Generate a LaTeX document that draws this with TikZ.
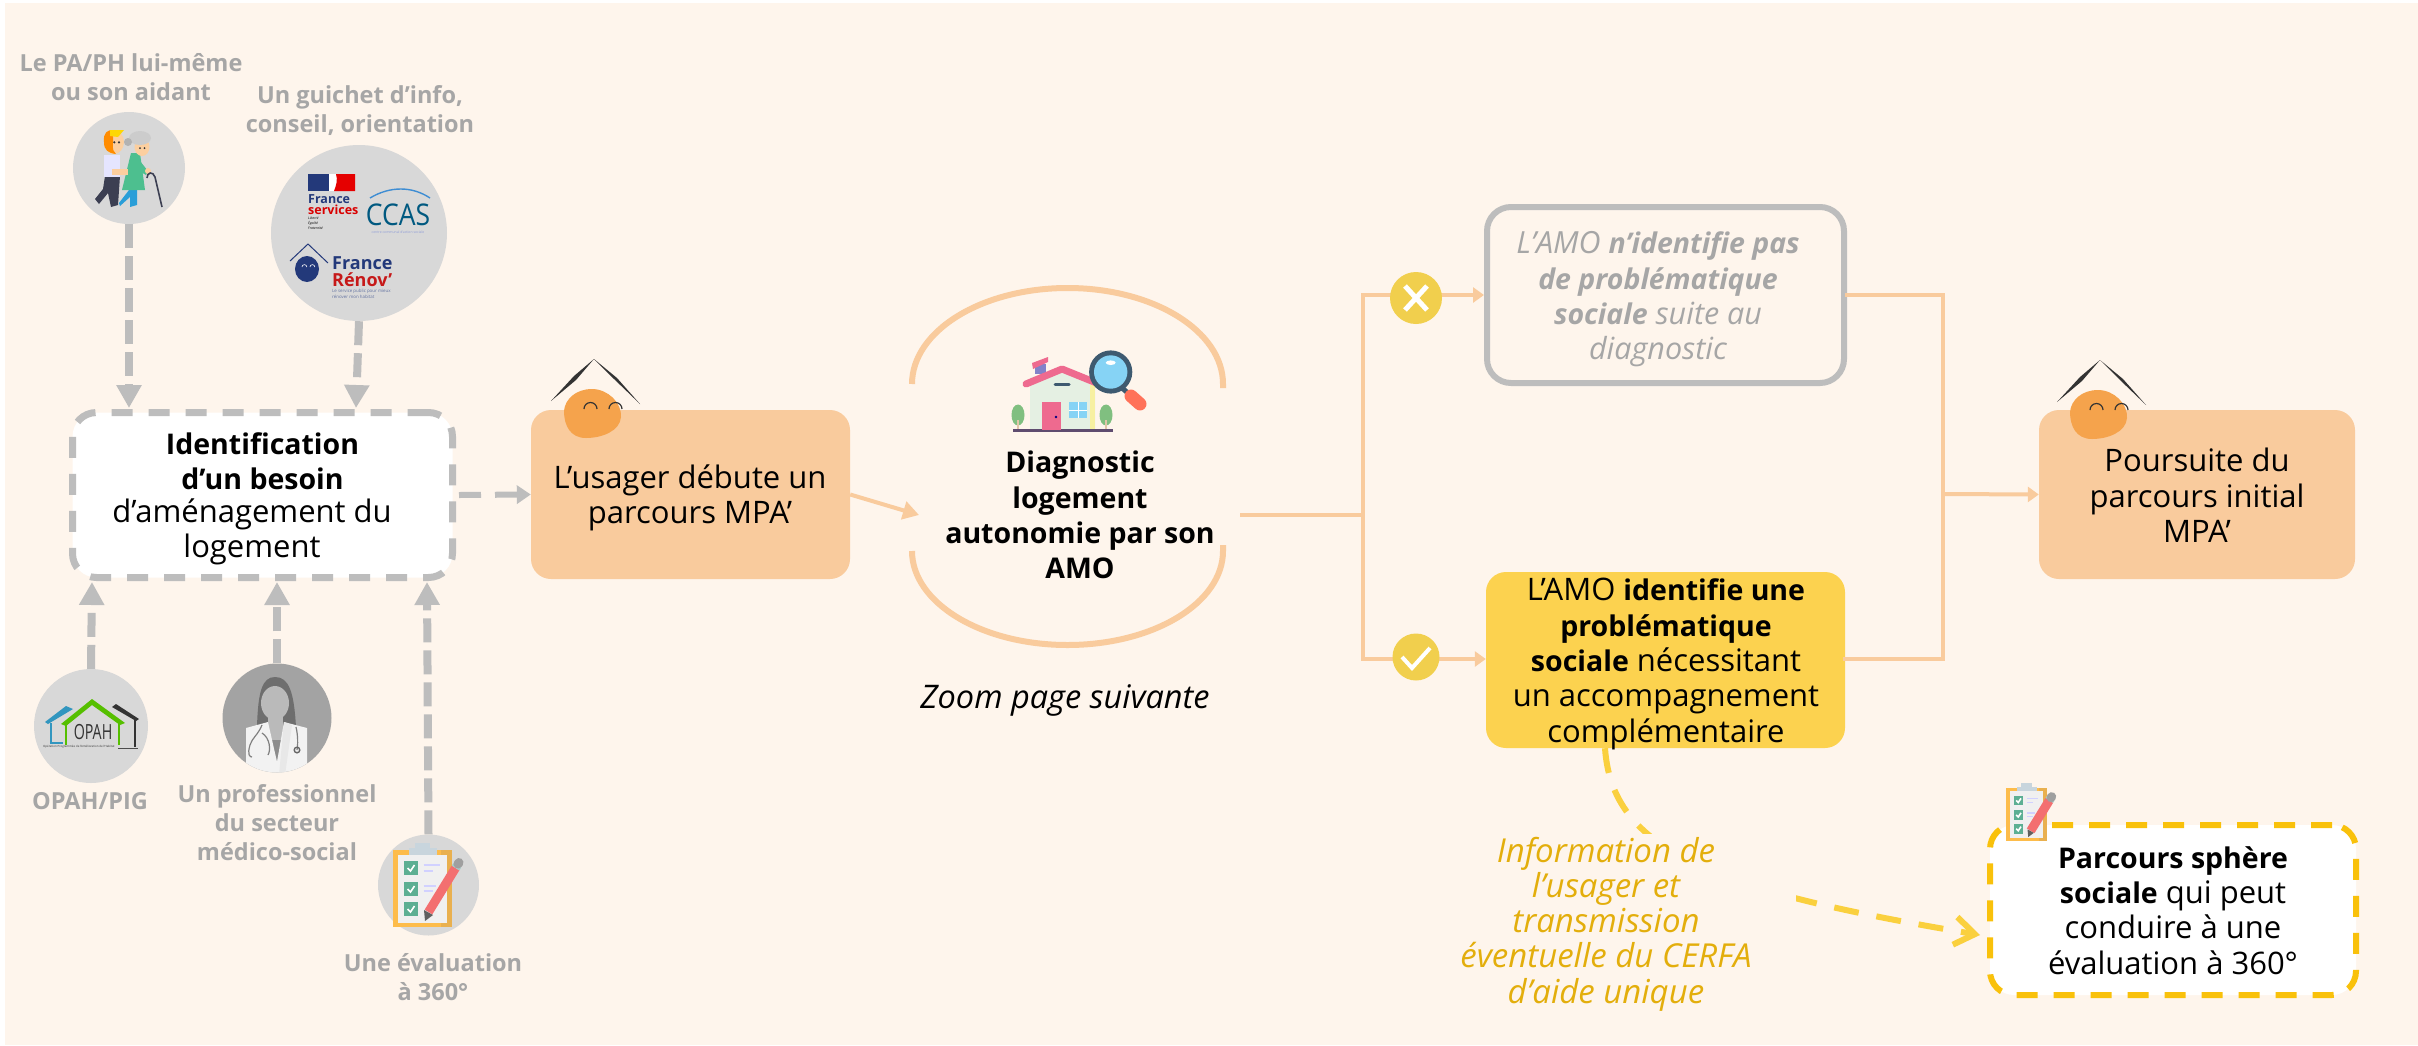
\documentclass[tikz,border=0pt]{standalone}
\usepackage{fontspec}
\usepackage{graphicx}
\setmainfont{Open Sans}
\usetikzlibrary{arrows.meta,calc}
\definecolor{bgc}{HTML}{FEF5EC}
\definecolor{peach}{HTML}{F9CB9D}
\definecolor{blob}{HTML}{F5A34C}
\definecolor{ygold}{HTML}{FCD24F}
\definecolor{ydash}{HTML}{F9C10B}
\definecolor{ycurve}{HTML}{FAD03E}
\definecolor{ytxt}{HTML}{E3AE0C}
\definecolor{gline}{HTML}{BDBDBD}
\definecolor{gtxt}{HTML}{A6A6A6}
\definecolor{gcirc}{HTML}{D8D8D8}
\definecolor{ycirc}{HTML}{F1CF4D}
\definecolor{navy}{HTML}{23397A}
\definecolor{pinkr}{HTML}{EE6A8F}
\definecolor{magblue}{HTML}{86D3F5}
\definecolor{magdark}{HTML}{3E5A70}
\definecolor{skin}{HTML}{FCCF9F}
\definecolor{trouser}{HTML}{3C3F52}
\definecolor{robe}{HTML}{4DBF8F}
\definecolor{legb}{HTML}{2A9ED8}
\definecolor{cboard}{HTML}{FDBC4B}
\definecolor{cboardd}{HTML}{E9B04F}
\definecolor{cclip}{HTML}{C8D5DD}
\definecolor{ctick}{HTML}{5CAF93}
\definecolor{pencil}{HTML}{F36F70}
\tikzset{
 lab/.style={align=center,text=gtxt,font=\fontsize{23.5}{29}\selectfont\bfseries},
 body/.style={align=center,font=\fontsize{31}{35.3}\selectfont},
 gdash/.style={draw=gline,line width=8pt,dash pattern=on 24pt off 8pt,-{Triangle[length=23pt,width=24pt]}},
 branch/.style={draw=peach,line width=4pt},
 barrow/.style={draw=peach,line width=4pt,-{Triangle[length=11pt,width=15pt]}},
 pbox/.style={fill=peach,rounded corners=20pt},
 circ/.style={circle,fill=gcirc,inner sep=0pt},
}
\newcommand{\bb}[1]{{\fontsize{28.5}{35.3}\selectfont\bfseries #1}}
\newcommand{\mascot}[1]{%
 \begin{scope}[shift={(#1)}]
 \fill[black!80] (-43,42) -- (-20,17) -- (0,0) -- (-18,21) -- cycle;
 \fill[black!80] (0,0) -- (20,20) -- (46,45) -- (23,19) -- cycle;
 \fill[blob] (-2,30) .. controls (14,30) and (28,44) .. (27,58) .. controls (26,72) and (8,79) .. (-8,79) .. controls (-24,79) and (-30,66) .. (-30,52) .. controls (-29,40) and (-18,30) .. (-2,30) -- cycle;
 \draw[line width=1.2pt,black!80] (-10,50) arc (180:360:6.5);
 \draw[line width=1.2pt,black!80] (15,50) arc (180:360:6.5);
 \end{scope}}
\newcommand{\clipboard}[2]{%
 \begin{scope}[shift={(#1)},scale=#2]
 \fill[cclip] (-7.5,-7) rectangle (7.5,0);
 \fill[cboard] (-29.5,0) rectangle (29.5,77);
 \fill[cboardd] (18,0) rectangle (29.5,77);
 \fill[black!6] (-24.5,5) rectangle (24.5,73);
 \fill[cclip] (-13.5,-2) rectangle (14.5,5);
 \foreach \yy in {18,39,59}{
  \fill[ctick] (-18.5,\yy-7) rectangle (-4.5,\yy+7);
  \draw[white,line width=1.6pt] (-15,\yy) -- (-12,\yy+3) -- (-8,\yy-3);
 }
 \draw[line width=1.6pt,blue!18] (1,15) -- (17,15) (1,21) -- (10,21) (1,36) -- (13,36) (1,41) -- (10,41);
 \draw[line width=9pt,pencil] (6,62) -- (33,18);
 \fill[gray!75!black] (2.5,71) -- (1.5,60) -- (10.5,65) -- cycle;
 \draw[line width=9pt,cclip!70!ctick] (33,18) -- (35,15);
 \draw[line width=9pt,gray!75,line cap=round] (35.5,14) -- (36.5,12.5);
 \end{scope}}
\begin{document}
\begin{tikzpicture}[x=1pt,y=-1pt]
\useasboundingbox (0,0) rectangle (2418,1045);
\fill[white] (0,0) rectangle (2418,1045);
\fill[bgc] (5,3) rectangle (2418,1045);

% circles (left)
\node[circ,minimum size=112pt] (c1) at (129,168) {};
\node[circ,minimum size=176pt] (c2) at (359,233) {};
\node[circ,minimum size=114pt] (c3) at (91,726) {};
\node[circle,fill=gray!72,minimum size=109pt,inner sep=0pt] (c4) at (277,718) {};
\node[circ,minimum size=101pt] (c5) at (428.5,885) {};

% labels
\node[lab] (l1) at (131,77) {Le PA/PH lui-même\\ou son aidant};
\node[lab] (l2) at (360,111) {Un guichet d’info,\\conseil, orientation};
\node[lab] (l3) at (90,801) {OPAH/PIG};
\node[lab] (l4) at (277,822.5) {Un professionnel\\du secteur\\médico-social};
\node[lab] (l5) at (433,977) {Une évaluation\\à 360°};

% white dashed box
\node[draw=gline,line width=7pt,fill=white,rounded corners=24pt,minimum width=380pt,minimum height=165pt,dash pattern=on 21pt off 16pt,inner sep=0pt] (idb) at (262.5,495) {};
\node[body,text=black] (idbt1) at (262.5,461.5) {\bb{Identification}\\\bb{d’un besoin}};
\node[body,text=black] (idbt2) at (252,531.5) {d’aménagement du\\logement};

% grey dashed arrows
\coordinate (t1) at (129,408);
\coordinate (t2) at (356,408);
\coordinate (t3) at (92,582);
\coordinate (t4) at (277,582);
\coordinate (t5) at (427,582);
\draw[gdash] (c1.south) -- (t1);
\draw[gdash] (c2.south) -- (t2);
\draw[gdash] (c3.north) -- (t3);
\draw[gdash] (c4.north) -- (t4);
\draw[gdash] (c5.north) -- (t5);

% MPA box
\node[pbox,minimum width=319pt,minimum height=169pt,inner sep=0pt] (mpa) at (690.5,494.5) {};
\node[body] (mpat) at (690,498) {L’usager débute un\\parcours MPA’};
\mascot{594,359}
\draw[draw=gline,line width=6pt,dash pattern=on 22pt off 14pt,-{Triangle[length=14pt,width=18pt]}] (idb.east) ++(3,0) -- (mpa.west);

% arrow to diagnostic
\coordinate (dgin) at (919,515);
\draw[draw=peach,line width=4pt,-{Triangle[length=16pt,width=18pt]}] (mpa.east) -- (dgin);

% diagnostic arcs
\draw[peach,line width=6pt] (912,384) arc[start angle=180,end angle=360,x radius=155.5,y radius=96] -- ++(0,4);
\draw[peach,line width=6pt] (912,551) arc[start angle=180,end angle=0,x radius=155.5,y radius=94] -- ++(0,-6);
\node[body,font=\fontsize{28.5}{35.3}\selectfont\bfseries] (dg) at (1080,515) {Diagnostic\\logement\\autonomie par son\\AMO};
\node[body,font=\fontsize{32.5}{35.3}\selectfont\itshape] (zoomt) at (1065,700) {Zoom page suivante};

% house icon
\fill[green!50!black!50!white] (1018,415) ellipse (6.5pt and 10.5pt) (1106,415) ellipse (6.5pt and 10.5pt);
\draw[brown!45,line width=2pt] (1018,420) -- (1018,431) (1106,420) -- (1106,431);
\fill[yellow!12!green!8!white!96!black] (1030,378) -- (1061,368) -- (1095,378) -- (1095,431) -- (1030,431) -- cycle;
\fill[brown!30!yellow!40] (1090,385) rectangle (1095,431);
\fill[red!35!blue!30!black!70] (1013,429) rectangle (1113,432);
\fill[pinkr] (1042,402) rectangle (1061,430);
\fill[blue!50!black] (1056,417) circle (1.4pt);
\fill[magblue] (1069,402) rectangle (1087,418);
\draw[white,line width=1pt] (1078,402) -- (1078,418) (1069,410) -- (1087,410);
\fill[blue!40!gray!70] (1035,364) rectangle (1046,374);
\fill[pinkr] (1032,363) -- (1048,357) -- (1048,362) -- (1033,369) -- cycle;
\draw[pinkr,line width=7pt,line cap=round,line join=round] (1026,384) -- (1062,369) -- (1099,384);
\draw[magdark,line width=3pt,line cap=round] (1055,384.5) -- (1069,384.5);
\draw[magdark,line width=5pt] (1122,388) -- (1128,393);
\fill[magdark] (1110.7,372) circle (21.6pt);
\fill[magblue] (1110.7,372) circle (16.7pt);
\fill[white] (1110.7,362.7) ellipse (5pt and 2.3pt);
\draw[red!70!orange!65,line width=13pt,line cap=round] (1131,396) -- (1140,404);

% branching
\coordinate (dgout) at (1240,515);
\coordinate (jl) at (1363,515);
\coordinate (jlt) at (1363,295);
\coordinate (jlb) at (1363,659);
\coordinate (jr) at (1943,494);
\coordinate (jrt) at (1943,295);
\coordinate (jrb) at (1943,659);
\node[draw=gline,line width=6pt,rounded corners=24pt,minimum width=357pt,minimum height=176pt,inner sep=0pt] (nop) at (1665.5,295) {};
\node[pbox,fill=ygold,minimum width=359pt,minimum height=176pt,inner sep=0pt] (oui) at (1665.5,660) {};
\node[pbox,minimum width=316pt,minimum height=169pt,inner sep=0pt] (fin) at (2197,494.5) {};
\draw[branch] (dgout) -- (jl);
\draw[branch,line cap=rect] (jlt) -- (jlb);
\draw[barrow] (jlt) -- (nop.west);
\draw[barrow] (jlb) -- (oui.west |- jlb);
\draw[branch,line cap=rect] (nop.east |- jrt) -- (jrt) -- (jrb) -- (oui.east |- jrb);
\draw[barrow] (jr) -- (fin.west);

\node[circle,fill=ycirc,minimum size=52pt,inner sep=0pt] (cx) at (1416,298) {};
\draw[white,line width=5pt] (1405,286) -- (1427,310) (1427,286) -- (1405,310);
\node[circle,fill=ycirc,minimum size=47pt,inner sep=0pt] (cv) at (1416,657) {};
\draw[white,line width=4pt] (1402,657) -- (1412,668) -- (1430,648);

\node[body,text=gtxt,font=\fontsize{30.5}{35.3}\selectfont\itshape] (nopt) at (1658,299.5) {L’AMO \bb{n’identifie pas}\\\bb{de problématique}\\\bb{sociale} suite au\\diagnostic};
\node[body] (ouit) at (1666,664) {L’AMO \bb{identifie une}\\\bb{problématique}\\\bb{sociale} nécessitant\\un accompagnement\\complémentaire};
\node[body] (fint) at (2197,495.5) {Poursuite du\\parcours initial\\MPA’};
\mascot{2100,360}

% lower right
\node[draw=ydash,line width=6pt,fill=white,rounded corners=24pt,minimum width=366pt,minimum height=170pt,dash pattern=on 21pt off 16pt,inner sep=0pt] (soc) at (2173,910) {};
\coordinate (cvend) at (1980,935);
\draw[draw=ycurve,line width=6pt,dash pattern=on 25pt off 18pt,-{Straight Barb[length=20pt,width=28pt,line width=6pt]}] (oui.south -| 1605,748) .. controls (1612,850) and (1710,890) .. (cvend);
\node[body,text=ytxt,fill=bgc,inner sep=0pt,minimum width=380pt,minimum height=180pt,font=\fontsize{33}{35.3}\selectfont\itshape] (info) at (1606,924) {Information de\\l’usager et\\transmission\\éventuelle du CERFA\\d’aide unique};
\node[body] (soct) at (2173,910.5) {\bb{Parcours sphère}\\\bb{sociale} qui peut\\conduire à une\\évaluation à 360°};
\clipboard{2026.5,788}{0.69}
\clipboard{422.5,850}{1}

% persons icon
\fill[trouser] (105,176) -- (120,176) -- (118,205) -- (111,207) -- (108,193) -- (99,204) -- (95,199) -- (103,189) -- cycle;
\fill[blue!10] (104,155) rectangle (120,177);
\fill[skin] (114,142) ellipse (10pt and 12pt);
\fill[orange!90!yellow] (104,142) .. controls (103,132) and (108,130) .. (113,130) -- (113,142) .. controls (112,150) and (114,152) .. (116,154) .. controls (108,153) and (104,150) .. (104,142) -- cycle;
\fill[yellow!75!orange] (110,130) -- (124,130) -- (118,137) -- (110,136) -- cycle;
\fill[black!80] (114.3,142.3) circle (1.2pt) (119,142.3) circle (1.2pt);
\fill[legb] (119,203) -- (129,190) -- (137,190) -- (137,205) -- (130,207) -- (130,197) -- (120,206) -- cycle;
\fill[robe] (131,153) -- (140,153) -- (145,190) -- (122,190) -- cycle;
\fill[robe] (136,156) -- (148,171) -- (146,175) -- (134,168) -- cycle;
\fill[skin] (112,169) rectangle (128,175);
\fill[skin] (142,147) ellipse (7.5pt and 9pt);
\fill[gray!40] (140,138) ellipse (11pt and 7pt);
\fill[gray!60] (128,142) circle (4pt);
\fill[black!80] (140,148) circle (1pt) (144.5,148) circle (1pt);
\fill[skin] (148,171) circle (3pt);
\draw[trouser,line width=1.6pt] (147,178) .. controls (147,172) and (153,171) .. (155,177) -- (162,207);

% logos circle
\fill[navy] (308,174) rectangle (329,191);
\fill[white] (329,174) rectangle (342,191);
\fill[red!90!black] (336,174) .. controls (338,180) and (336,186) .. (334,191) -- (355,191) -- (355,174) -- cycle;
\node[anchor=west,inner sep=0pt,text=navy,font=\fontsize{12.5}{14}\selectfont\bfseries] (fs1) at (308,199) {France};
\node[anchor=west,inner sep=0pt,text=red!85!black,font=\fontsize{12.5}{14}\selectfont\bfseries] (fs2) at (308,210) {services};
\node[anchor=north west,inner sep=0pt,align=left,font=\fontsize{3.4}{4.6}\selectfont\itshape] (fs3) at (308,217) {Liberté\\Égalité\\Fraternité};
\draw[cyan!60!blue!80,line width=1.4pt] (370,198) .. controls (390,186) and (412,186) .. (430,198);
\node[inner sep=0pt,text=blue!30!cyan!50!black,font=\fontsize{26}{30}\selectfont] (ccas) at (398,215) {\scalebox{1.02}[1.15]{CCAS}};
\node[inner sep=0pt,text=cyan!30!blue!45,font=\fontsize{3.4}{5}\selectfont] (ccas2) at (398,232) {centre communal d’action sociale};
\draw[navy,line width=1pt] (290,261) -- (308,244) -- (328,263);
\fill[navy] (307,269) ellipse (12pt and 13pt);
\draw[white,line width=.6pt] (302,267) arc (180:360:2.4) (310,267) arc (180:360:2.4);
\node[anchor=west,inner sep=0pt,text=navy,font=\fontsize{18}{20}\selectfont\bfseries] (fr1) at (332,263) {France};
\node[anchor=west,inner sep=0pt,text=red!75!black!90!white,font=\fontsize{18}{20}\selectfont\bfseries] (fr2) at (332,280) {Rénov’};
\node[anchor=north west,inner sep=0pt,align=left,text=navy!70,font=\fontsize{4.4}{6}\selectfont] (fr3) at (332,289) {Le service public pour mieux\\rénover mon habitat};

% OPAH
\fill[cyan!50!teal] (45,722) -- (66,706) -- (73,709) -- (48,724) -- cycle;
\draw[cyan!50!teal,line width=1.5pt] (51,723) -- (51,743) -- (63,743);
\fill[black!80] (112,707) -- (116,704) -- (139,719) -- (136,721) -- cycle;
\draw[black!80,line width=1.5pt] (135,719) -- (135,747);
\fill[green!55!yellow!75!black] (61,724) -- (92,699) -- (125,723) -- (120,725) -- (92,705) -- (66,726) -- cycle;
\draw[green!55!yellow!75!black,line width=1.5pt] (66,724) -- (66,745) (119,724) -- (119,745);
\node[inner sep=0pt,text=black!80,font=\fontsize{19}{20}\selectfont] (op) at (93,732) {\scalebox{.75}[1.1]{OPAH}};
\node[anchor=west,inner sep=0pt,text=black!80,font=\fontsize{2.9}{3}\selectfont] (op2) at (43,747) {Opération Programmée de l’Amélioration de l’Habitat};
\draw[black!70,line width=1pt] (118,748) -- (138,748);

% doctor
\begin{scope}
\clip (277,718) circle (54.5pt);
\fill[black!57] (257,727) .. controls (258,692) and (262,677) .. (275,677) .. controls (289,677) and (294,692) .. (296,727) -- cycle;
\fill[black!27] (275,703) ellipse (14pt and 17pt);
\fill[black!27] (268,712) rectangle (283,740);
\fill[black!45] (271,740) -- (282,740) -- (277,760) -- cycle;
\fill[black!5] (246,775) -- (246,728) -- (268,722) -- (277,762) -- (284,722) -- (307,728) -- (307,775) -- cycle;
\fill[black!9] (279,775) -- (284,722) -- (292,725) -- (285,775) -- cycle;
\draw[black!50,line width=1.2pt] (262,725) .. controls (258,735) and (252,738) .. (250,745) .. controls (247,755) and (250,757) .. (252,757);
\draw[black!50,line width=1.2pt] (262,733) .. controls (270,738) and (271,750) .. (268,755);
\draw[black!50,line width=1.2pt] (296,727) .. controls (298,735) and (298,745) .. (297,750);
\draw[black!60,line width=1.4pt] (297,750) circle (2.8pt);
\end{scope}
\end{tikzpicture}
\end{document}
